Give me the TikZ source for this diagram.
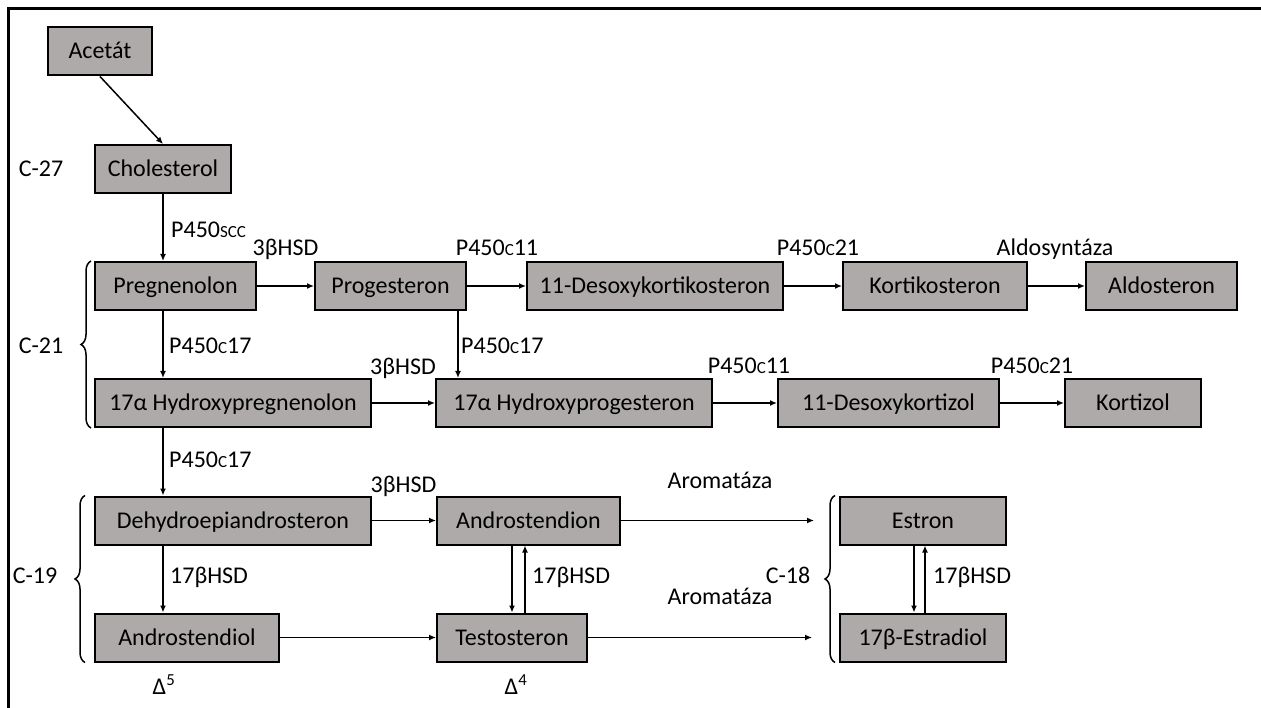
\documentclass[tikz,border=0pt]{standalone}
\usepackage{fontspec}
\setmainfont{Carlito}
\usetikzlibrary{positioning, arrows.meta, decorations.pathreplacing}
\usepackage{xcolor}
\definecolor{BoxGray}{HTML}{AEAAAA}
\newcommand{\smcap}[1]{{\fontsize{17}{17}\selectfont #1}}

\begin{document}
\begin{tikzpicture}[
        x=1pt, y=-1pt,
        font=\fontsize{24}{28}\selectfont,
        box/.style={draw=black, line width=2pt, fill=BoxGray, minimum height=48pt, inner sep=0pt, text height=18pt, text depth=3pt},
        lbl/.style={inner sep=0pt, text height=18pt, text depth=3pt},
        conn/.style={-{Latex[length=7pt,width=6pt]}, line width=1.5pt},
        grp/.style={decorate, decoration={brace, amplitude=10pt}, line width=1.5pt}
    ]
    \useasboundingbox (0,0) rectangle (1261,708);
    \draw[line width=3pt] (8,708) -- (8,9) -- (1261,9);

    % C-27
    \node[box, minimum width=104pt] (acetat) at (100,51.5) {Acetát};
    \node[box, minimum width=136pt] (chol) at (163,169) {Cholesterol};
    \node[lbl] (c27) at (41,169) {C-27};

    % C-21, first row
    \node[box, minimum width=161pt] (preg) at (175.5,286) {Pregnenolon};
    \node[box, minimum width=151pt] (prog) at (390.5,286) {Progesteron};
    \node[box, minimum width=256pt] (dok) at (655,286) {11-Desoxykortikosteron};
    \node[box, minimum width=184pt] (kort) at (935,286) {Kortikosteron};
    \node[box, minimum width=151pt] (aldo) at (1161.5,286) {Aldosteron};

    % C-21, second row
    \node[box, minimum width=276pt] (hpreg) at (233,403) {17α Hydroxypregnenolon};
    \node[box, minimum width=276pt] (hprog) at (574,403) {17α Hydroxyprogesteron};
    \node[box, minimum width=221pt] (dokz) at (888.5,403) {11-Desoxykortizol};
    \node[box, minimum width=136pt] (kortz) at (1133,403) {Kortizol};
    \node[lbl] (c21) at (41,346) {C-21};

    % C-19
    \node[box, minimum width=276pt] (dhea) at (233,520.5) {Dehydroepiandrosteron};
    \node[box, minimum width=183pt] (adion) at (528.5,520.5) {Androstendion};
    \node[box, minimum width=184pt] (adiol) at (187,637.5) {Androstendiol};
    \node[box, minimum width=150pt] (testo) at (512,637.5) {Testosteron};
    \node[lbl] (c19) at (35,576) {C-19};

    % C-18
    \node[box, minimum width=166pt] (estron) at (923,520.5) {Estron};
    \node[box, minimum width=166pt] (estra) at (923,637.5) {17β-Estradiol};
    \node[lbl] (c18) at (788,576) {C-18};
    \coordinate (estronIn) at (814,520.5);
    \coordinate (estraIn) at (812,637.5);

    % Braces
    \draw[grp] ([xshift=-3pt]hpreg.south west) -- ([xshift=-3pt]preg.north west);
    \draw[grp] ([xshift=-9pt]adiol.south west) -- ([xshift=-9pt]dhea.north west);
    \draw[grp] ([xshift=-4pt]estra.south west) -- ([xshift=-4pt]estron.north west);

    % Connections
    \draw[conn] (acetat.south) -- (chol.north);
    \draw[conn] (chol.south) -- (chol.south |- preg.north);
    \draw[conn] (chol.south |- preg.south) -- (chol.south |- hpreg.north);
    \draw[conn] (chol.south |- hpreg.south) -- (chol.south |- dhea.north);
    \draw[conn] (chol.south |- dhea.south) -- (chol.south |- adiol.north);
    \foreach \a/\b in {preg/prog, prog/dok, dok/kort, kort/aldo,
                       hpreg/hprog, hprog/dokz, dokz/kortz,
                       dhea/adion, adiol/testo} {
        \draw[conn] (\a.east) -- (\b.west);
    }
    \coordinate (progDown) at ([xshift=-9pt]prog.south east);
    \draw[conn] (progDown) -- (progDown |- hprog.north);
    \draw[conn] (adion.east) -- (estronIn);
    \draw[conn] (testo.east) -- (estraIn);
    \draw[conn] (testo.north |- adion.south) -- (testo.north);
    \draw[conn] ([xshift=13pt]testo.north) -- ([xshift=13pt]testo.north |- adion.south);
    \draw[conn] ([xshift=-9pt]estron.south) -- ([xshift=-9pt]estra.north);
    \draw[conn] ([xshift=2pt]estra.north) -- ([xshift=2pt]estron.south);

    % Enzymes
    \node[lbl, anchor=west] (scc) at (171,230) {P450\smcap{SCC}};
    \node[lbl] (hsd1) at (285.5,248) {3βHSD};
    \node[lbl] (c11a) at (497,248) {P450\smcap{C}11};
    \node[lbl] (c21a) at (818,248) {P450\smcap{C}21};
    \node[lbl] (aldsyn) at (1055,248) {Aldosyntáza};
    \node[lbl, anchor=west] (c17a) at (169,346) {P450\smcap{C}17};
    \node[lbl, anchor=west] (c17b) at (461,346) {P450\smcap{C}17};
    \node[lbl] (hsd2) at (403,367) {3βHSD};
    \node[lbl] (c11b) at (749,366) {P450\smcap{C}11};
    \node[lbl] (c21b) at (1032,366) {P450\smcap{C}21};
    \node[lbl, anchor=west] (c17c) at (169,460) {P450\smcap{C}17};
    \node[lbl] (hsd3) at (403.5,485) {3βHSD};
    \node[lbl] (arom1) at (720,481) {Aromatáza};
    \node[lbl, anchor=west] (bhsd1) at (170,576) {17βHSD};
    \node[lbl, anchor=west] (bhsd2) at (532,576) {17βHSD};
    \node[lbl, anchor=west] (bhsd3) at (933,576) {17βHSD};
    \node[lbl] (arom2) at (720,597) {Aromatáza};
    \node[lbl] (d5) at (164,687) {Δ\textsuperscript{5}};
    \node[lbl] (d4) at (516,687) {Δ\textsuperscript{4}};
\end{tikzpicture}
\end{document}
